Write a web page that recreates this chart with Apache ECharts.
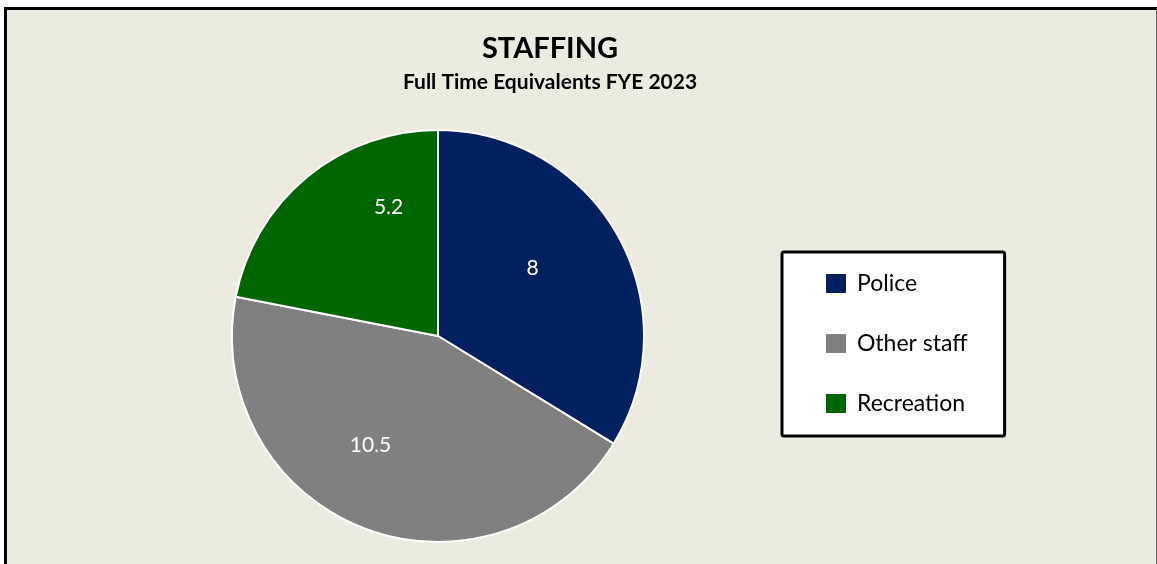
<!DOCTYPE html>
<html>
<head>
<meta charset="utf-8">
<script src="https://cdn.jsdelivr.net/npm/echarts@6/dist/echarts.min.js"></script>
<style>
  html, body { margin: 0; padding: 0; background: #ffffff; }
  #frame {
    position: absolute;
    left: 4px;
    top: 7px;
    width: 1149px;
    height: 554px;
    background: #edeae0;
    border-left: 3px solid #000;
    border-top: 3px solid #000;
    border-right: 1px solid #666;
    border-bottom: 1px solid #666;
  }
  #chart { width: 100%; height: 100%; }
</style>
</head>
<body>
<div id="frame"><div id="chart"></div></div>
<script>
// 数据
const categories = ['Police', 'Other staff', 'Recreation']
const values = [8, 10.5, 5.2]
const colors = ['#002060', '#808080', '#006600']
// 标签微调（Excel 的最佳位置）
const labelOffsets = [[2, -16], [-29, 10], [18, -47]]

const chart = echarts.init(document.getElementById('chart'))

const option = {
  backgroundColor: 'transparent',
  title: {
    text: 'STAFFING',
    subtext: 'Full Time Equivalents FYE 2023',
    left: 538,
    top: 19,
    textAlign: 'center',
    itemGap: 9,
    textStyle: { fontFamily: 'Lato', fontSize: 29, fontWeight: 'bold', color: '#000' },
    subtextStyle: { fontFamily: 'Lato', fontSize: 21, fontWeight: 'bold', color: '#000' },
  },
  legend: {
    orient: 'vertical',
    left: 775,
    top: 242,
    itemWidth: 22,
    itemHeight: 21,
    itemGap: 37,
    padding: [20, 37, 21, 42],
    backgroundColor: '#fff',
    borderColor: '#000',
    borderWidth: 3,
    borderRadius: 2,
    icon: 'rect',
    textStyle: { fontFamily: 'Lato', fontSize: 23, color: '#000', padding: [0, 0, 0, 5] },
    data: categories,
  },
  series: [
    {
      type: 'pie',
      center: [431, 326],
      radius: 206,
      startAngle: 90,
      clockwise: true,
      silent: true,
      itemStyle: { borderColor: '#fff', borderWidth: 2 },
      label: {
        show: true,
        position: 'inside',
        color: '#fff',
        fontFamily: 'Lato',
        fontSize: 21,
        formatter: '{c}',
      },
      labelLine: { show: false },
      data: categories.map((name, i) => ({
        name,
        value: values[i],
        itemStyle: { color: colors[i] },
        label: { offset: labelOffsets[i] },
      })),
    },
  ],
}

chart.setOption(option)
</script>
</body>
</html>
